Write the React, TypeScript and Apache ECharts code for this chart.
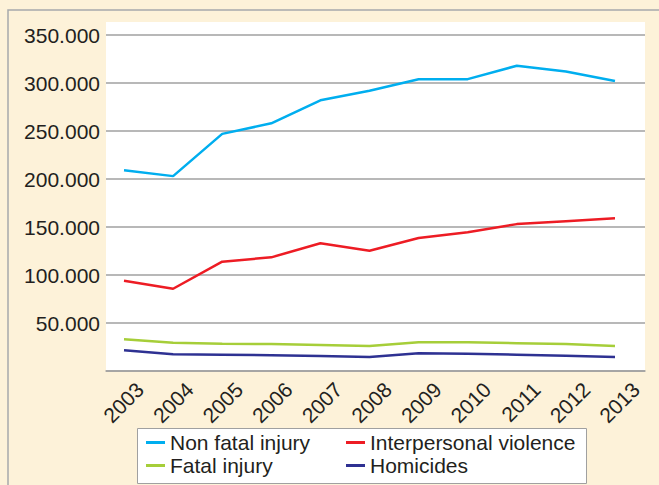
import React, { useEffect, useRef } from "react";
import * as echarts from "echarts";

const years = ["2003", "2004", "2005", "2006", "2007", "2008", "2009", "2010", "2011", "2012", "2013"];
const nonFatalInjury = [209000, 203000, 247000, 258000, 282000, 292000, 304000, 304000, 318000, 312000, 302000];
const interpersonalViolence = [94000, 85700, 113900, 118400, 133000, 125300, 138500, 144500, 153000, 156000, 159000];
const fatalInjury = [33000, 29500, 28500, 28000, 27000, 26000, 30000, 30000, 29000, 28000, 26000];
const homicides = [21500, 17500, 17000, 16500, 15500, 14500, 18500, 18000, 17000, 16000, 14500];

const FONT = "'Liberation Sans', Arial, sans-serif";
const TXT = "#231f20";

export default function App() {
  const ref = useRef<HTMLDivElement>(null);
  useEffect(() => {
    if (!ref.current) return;
    const chart = echarts.init(ref.current, undefined, { renderer: "svg" });
    const yBase = { type: "value", min: 0, max: 350000, interval: 50000 };
    const series = [
      { name: "Non fatal injury", data: nonFatalInjury, color: "#00aeef" },
      { name: "Interpersonal violence", data: interpersonalViolence, color: "#ed1c24" },
      { name: "Fatal injury", data: fatalInjury, color: "#a6ce39" },
      { name: "Homicides", data: homicides, color: "#2e3192" },
    ].map((s) => ({
      name: s.name,
      type: "line",
      data: s.data,
      xAxisIndex: 1,
      yAxisIndex: 1,
      symbol: "none",
      color: s.color,
      lineStyle: { width: 2.5, color: s.color },
      z: 3,
    }));
    chart.setOption({
      animation: false,
      backgroundColor: "#fdf2d9",
      textStyle: { fontFamily: FONT },
      graphic: [
        {
          type: "rect",
          z: -10,
          shape: { x: 8, y: 10, width: 700, height: 600 },
          style: { fill: "#fdf2d9", stroke: "#a7a9ac", lineWidth: 1.5 },
        },
        {
          type: "rect",
          z: -5,
          shape: { x: 106, y: 22, width: 539, height: 349 },
          style: { fill: "#ffffff" },
        },
        {
          type: "rect",
          z: -5,
          shape: { x: 137.5, y: 428.5, width: 449, height: 55 },
          style: { fill: "#ffffff", stroke: "#a0a0a0", lineWidth: 1 },
        },
      ],
      grid: [
        { left: 106, right: 14, top: 35, bottom: 114 },
        { left: 124, right: 44, top: 35, bottom: 114 },
        { left: 140, right: 23, top: 35, bottom: 114 },
      ],
      xAxis: [
        {
          gridIndex: 0,
          type: "category",
          data: years,
          axisLine: { show: true, lineStyle: { color: "#a0a0a0", width: 1.5 } },
          axisTick: { show: false },
          axisLabel: { show: false },
        },
        {
          gridIndex: 1,
          type: "category",
          data: years,
          boundaryGap: false,
          show: false,
        },
        {
          gridIndex: 2,
          type: "category",
          data: years,
          boundaryGap: false,
          axisLine: { show: false },
          axisTick: { show: false },
          axisLabel: {
            rotate: 45,
            margin: 15,
            interval: 0,
            fontSize: 21,
            color: TXT,
            fontFamily: FONT,
          },
        },
      ],
      yAxis: [
        {
          ...yBase,
          gridIndex: 0,
          axisLine: { show: false },
          axisTick: { show: false },
          splitLine: { show: true, lineStyle: { color: "#a0a0a0", width: 1.5 } },
          axisLabel: {
            margin: 6,
            fontSize: 21,
            color: TXT,
            fontFamily: FONT,
            formatter: (v: number) => (v === 0 ? "" : (v / 1000).toFixed(0) + ".000"),
          },
        },
        { ...yBase, gridIndex: 1, show: false, splitLine: { show: false } },
        { ...yBase, gridIndex: 2, show: false, splitLine: { show: false } },
      ],
      legend: [
        {
          data: ["Non fatal injury", "Fatal injury"],
          orient: "vertical",
          left: 146,
          top: 432,
          itemGap: 2,
          itemWidth: 19,
          itemHeight: 3,
          icon: "rect",
          padding: 0,
          textStyle: { fontSize: 21, color: TXT, fontFamily: FONT },
        },
        {
          data: ["Interpersonal violence", "Homicides"],
          orient: "vertical",
          left: 346,
          top: 432,
          itemGap: 2,
          itemWidth: 19,
          itemHeight: 3,
          icon: "rect",
          padding: 0,
          textStyle: { fontSize: 21, color: TXT, fontFamily: FONT },
        },
      ],
      series,
    });
    return () => chart.dispose();
  }, []);
  return <div ref={ref} style={{ width: 659, height: 485, position: "absolute", left: 0, top: 0 }} />;
}
